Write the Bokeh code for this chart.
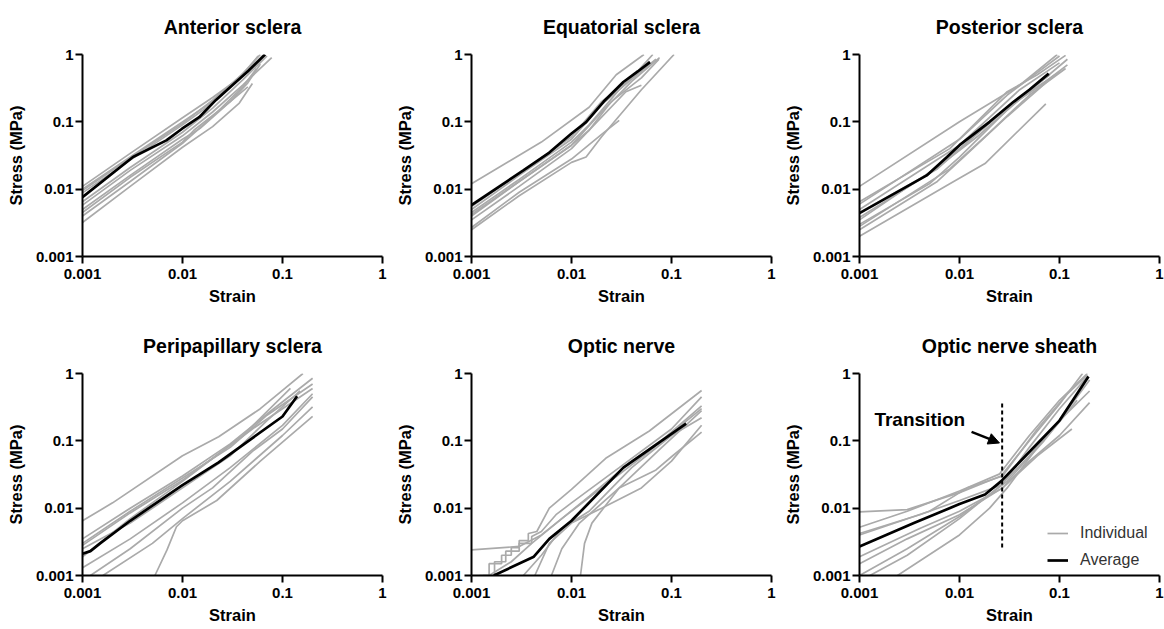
from bokeh.plotting import figure
from bokeh.layouts import column, row
from bokeh.models import (Range1d, FixedTicker, CustomJSTickFormatter, Legend, LegendItem,
                          Arrow, NormalHead, Label)
from bokeh.embed import file_html
from bokeh.resources import INLINE

# ---------------- data ----------------
TICKS = [0.001, 0.01, 0.1, 1]
TITLES = ["Anterior sclera", "Equatorial sclera", "Posterior sclera",
          "Peripapillary sclera", "Optic nerve", "Optic nerve sheath"]
X_LABEL = "Strain"
Y_LABEL = "Stress (MPa)"
LEGEND_LABELS = ["Individual", "Average"]

# Anterior sclera
ant_avg_strain = [0.001, 0.0032, 0.0069, 0.0099, 0.0147, 0.0215, 0.0315, 0.046, 0.067]
ant_avg_stress = [0.0076, 0.030, 0.053, 0.079, 0.117, 0.21, 0.35, 0.58, 1.0]
ant_ind = [
    ([0.001, 0.003, 0.01, 0.02, 0.035, 0.06], [0.011, 0.034, 0.115, 0.23, 0.42, 1.0]),
    ([0.001, 0.003, 0.01, 0.02, 0.04, 0.057], [0.010, 0.030, 0.10, 0.20, 0.50, 0.95]),
    ([0.001, 0.003, 0.01, 0.02, 0.04, 0.065], [0.0088, 0.027, 0.09, 0.19, 0.48, 1.0]),
    ([0.001, 0.003, 0.01, 0.02, 0.04, 0.07], [0.0065, 0.021, 0.07, 0.16, 0.42, 0.95]),
    ([0.001, 0.003, 0.01, 0.02, 0.04, 0.078], [0.0058, 0.019, 0.062, 0.14, 0.35, 0.9]),
    ([0.001, 0.003, 0.01, 0.015, 0.03, 0.045, 0.06], [0.005, 0.016, 0.055, 0.08, 0.2, 0.38, 0.72]),
    ([0.001, 0.003, 0.01, 0.013, 0.03, 0.045], [0.0045, 0.015, 0.05, 0.075, 0.2, 0.33]),
    ([0.001, 0.003, 0.01, 0.02, 0.037, 0.05], [0.0032, 0.011, 0.042, 0.085, 0.19, 0.37]),
    ([0.001, 0.003, 0.01, 0.02, 0.04, 0.055], [0.004, 0.013, 0.048, 0.12, 0.33, 0.62]),
    ([0.001, 0.003, 0.01, 0.02, 0.045, 0.065], [0.0095, 0.029, 0.095, 0.21, 0.6, 0.98]),
]

# Equatorial sclera
eq_avg_strain = [0.001, 0.0033, 0.006, 0.01, 0.014, 0.021, 0.033, 0.046, 0.061]
eq_avg_stress = [0.0058, 0.019, 0.035, 0.067, 0.099, 0.2, 0.39, 0.56, 0.77]
eq_ind = [
    ([0.001, 0.005, 0.015, 0.028, 0.053], [0.012, 0.05, 0.165, 0.5, 1.0]),
    ([0.001, 0.003, 0.01, 0.014, 0.02, 0.05, 0.106], [0.0025, 0.008, 0.025, 0.03, 0.06, 0.3, 1.0]),
    ([0.001, 0.003, 0.01, 0.02, 0.03], [0.0027, 0.009, 0.028, 0.065, 0.105]),
    ([0.001, 0.003, 0.01, 0.02, 0.04, 0.076], [0.004, 0.013, 0.045, 0.14, 0.4, 0.9]),
    ([0.001, 0.003, 0.01, 0.02, 0.045, 0.07], [0.005, 0.016, 0.055, 0.18, 0.5, 0.85]),
    ([0.001, 0.003, 0.01, 0.015, 0.03, 0.06], [0.0045, 0.014, 0.05, 0.09, 0.3, 0.8]),
    ([0.001, 0.003, 0.01, 0.018, 0.035, 0.05], [0.0035, 0.011, 0.04, 0.1, 0.28, 0.35]),
    ([0.001, 0.003, 0.01, 0.02, 0.04, 0.065], [0.0055, 0.017, 0.06, 0.2, 0.45, 1.0]),
    ([0.001, 0.003, 0.01, 0.015, 0.025, 0.05, 0.075], [0.0042, 0.013, 0.045, 0.075, 0.2, 0.45, 0.85]),
]

# Posterior sclera
post_avg_strain = [0.001, 0.0047, 0.0075, 0.01, 0.02, 0.035, 0.05, 0.078]
post_avg_stress = [0.0044, 0.016, 0.03, 0.045, 0.1, 0.2, 0.3, 0.52]
post_ind = [
    ([0.001, 0.01, 0.04, 0.095], [0.011, 0.1, 0.35, 1.0]),
    ([0.001, 0.008, 0.018, 0.073], [0.002, 0.012, 0.024, 0.185]),
    ([0.001, 0.01, 0.03, 0.1], [0.006, 0.055, 0.25, 0.95]),
    ([0.001, 0.008, 0.03, 0.06, 0.115], [0.0065, 0.04, 0.28, 0.5, 0.97]),
    ([0.001, 0.005, 0.01, 0.03, 0.12], [0.003, 0.012, 0.03, 0.15, 0.85]),
    ([0.001, 0.008, 0.02, 0.05, 0.115], [0.0028, 0.02, 0.07, 0.25, 0.62]),
    ([0.001, 0.007, 0.015, 0.04, 0.1], [0.0035, 0.025, 0.06, 0.22, 0.55]),
    ([0.001, 0.006, 0.012, 0.035, 0.08], [0.0045, 0.02, 0.05, 0.2, 0.5]),
    ([0.001, 0.006, 0.011, 0.03, 0.09], [0.0025, 0.013, 0.03, 0.12, 0.5]),
    ([0.001, 0.01, 0.04, 0.1], [0.005, 0.045, 0.3, 0.75]),
    ([0.001, 0.005, 0.012, 0.03, 0.07, 0.12], [0.0038, 0.017, 0.05, 0.16, 0.38, 0.7]),
]

# Peripapillary sclera
peri_avg_strain = [0.001, 0.0012, 0.0015, 0.003, 0.01, 0.023, 0.05, 0.1, 0.14]
peri_avg_stress = [0.0021, 0.0023, 0.003, 0.0065, 0.022, 0.048, 0.11, 0.23, 0.46]
peri_ind = [
    ([0.001, 0.002, 0.01, 0.023, 0.06, 0.16], [0.0065, 0.012, 0.06, 0.115, 0.3, 1.0]),
    ([0.001, 0.003, 0.01, 0.03, 0.07, 0.2], [0.0035, 0.01, 0.03, 0.09, 0.25, 0.85]),
    ([0.001, 0.003, 0.01, 0.03, 0.07, 0.2], [0.003, 0.009, 0.028, 0.08, 0.24, 0.7]),
    ([0.001, 0.003, 0.01, 0.05, 0.2], [0.0028, 0.0085, 0.026, 0.15, 0.6]),
    ([0.001, 0.003, 0.01, 0.04, 0.12], [0.0019, 0.007, 0.025, 0.12, 0.6]),
    ([0.001, 0.003, 0.01, 0.03, 0.1, 0.2], [0.0013, 0.0035, 0.012, 0.04, 0.17, 0.5]),
    ([0.0016, 0.005, 0.01, 0.03, 0.1, 0.2], [0.001, 0.003, 0.007, 0.025, 0.12, 0.32]),
    ([0.0053, 0.007, 0.0087, 0.01, 0.022, 0.06, 0.2], [0.001, 0.0024, 0.0053, 0.0065, 0.013, 0.05, 0.23]),
    ([0.001, 0.003, 0.01, 0.03, 0.07, 0.15], [0.0025, 0.006, 0.02, 0.06, 0.2, 0.55]),
    ([0.0012, 0.003, 0.01, 0.02, 0.05, 0.1, 0.2], [0.001, 0.0025, 0.01, 0.02, 0.07, 0.15, 0.45]),
]

# Optic nerve
on_avg_strain = [0.00167, 0.0042, 0.006, 0.01, 0.033, 0.14]
on_avg_stress = [0.001, 0.0019, 0.0035, 0.0065, 0.04, 0.18]
on_ind = [
    ([0.001, 0.003, 0.005, 0.008, 0.02, 0.06, 0.2], [0.0024, 0.0027, 0.004, 0.007, 0.02, 0.07, 0.33]),
    ([0.0012, 0.0015, 0.0015, 0.002, 0.002, 0.0025, 0.0025, 0.003, 0.003, 0.0037, 0.0037, 0.0045,
      0.006, 0.01, 0.022, 0.06, 0.2],
     [0.001, 0.001, 0.0015, 0.0015, 0.002, 0.002, 0.0026, 0.0026, 0.0033, 0.0033, 0.0042, 0.0045,
      0.01, 0.019, 0.055, 0.14, 0.56]),
    ([0.0013, 0.0017, 0.0017, 0.0022, 0.0022, 0.003, 0.003, 0.004, 0.004, 0.005, 0.007, 0.01, 0.03, 0.1, 0.2],
     [0.001, 0.001, 0.0016, 0.0016, 0.0023, 0.0023, 0.003, 0.003, 0.0038, 0.0045, 0.008, 0.012, 0.04, 0.15, 0.45]),
    ([0.0015, 0.0025, 0.004, 0.008, 0.015, 0.04, 0.1, 0.2],
     [0.001, 0.0016, 0.003, 0.007, 0.015, 0.05, 0.13, 0.3]),
    ([0.0033, 0.005, 0.008, 0.015, 0.04, 0.1, 0.2], [0.001, 0.002, 0.005, 0.009, 0.04, 0.12, 0.22]),
    ([0.0043, 0.006, 0.01, 0.02, 0.05, 0.1, 0.2], [0.001, 0.003, 0.006, 0.01, 0.02, 0.05, 0.17]),
    ([0.0063, 0.008, 0.012, 0.03, 0.08, 0.2], [0.001, 0.0025, 0.006, 0.02, 0.08, 0.28]),
    ([0.0123, 0.0135, 0.016, 0.03, 0.07, 0.1, 0.2], [0.001, 0.003, 0.006, 0.02, 0.037, 0.058, 0.135]),
]

# Optic nerve sheath
ons_avg_strain = [0.001, 0.0035, 0.01, 0.018, 0.026, 0.053, 0.1, 0.195]
ons_avg_stress = [0.0027, 0.006, 0.0115, 0.016, 0.025, 0.075, 0.2, 0.9]
ons_ind = [
    ([0.001, 0.003, 0.01, 0.026, 0.05, 0.1, 0.17], [0.0088, 0.0095, 0.017, 0.03, 0.1, 0.35, 1.0]),
    ([0.001, 0.003, 0.01, 0.025, 0.05, 0.1, 0.19], [0.0052, 0.009, 0.018, 0.032, 0.12, 0.4, 1.0]),
    ([0.001, 0.004, 0.01, 0.026, 0.05, 0.1, 0.2], [0.0042, 0.008, 0.013, 0.022, 0.06, 0.2, 0.55]),
    ([0.001, 0.004, 0.01, 0.027, 0.05, 0.1, 0.2], [0.0019, 0.005, 0.009, 0.02, 0.05, 0.12, 0.37]),
    ([0.001, 0.003, 0.01, 0.027, 0.06, 0.133], [0.0015, 0.0035, 0.008, 0.02, 0.06, 0.15]),
    ([0.00127, 0.003, 0.01, 0.027, 0.05, 0.1, 0.19], [0.001, 0.002, 0.007, 0.023, 0.08, 0.3, 0.9]),
    ([0.0024, 0.01, 0.02, 0.03, 0.06, 0.1, 0.2], [0.001, 0.004, 0.01, 0.02, 0.08, 0.2, 0.8]),
    ([0.001, 0.005, 0.012, 0.027, 0.06, 0.12, 0.19], [0.004, 0.009, 0.02, 0.03, 0.15, 0.5, 0.95]),
    ([0.001, 0.003, 0.01, 0.03, 0.07, 0.15], [0.001, 0.0025, 0.0075, 0.025, 0.1, 0.4]),
]

# Transition annotation (optic nerve sheath)
TRANS_LABEL = "Transition"
trans_strain = [0.0267, 0.0267]
trans_stress = [0.0026, 0.36]
trans_text_pos = (0.00141, 0.21)
trans_arrow_start = (0.0132, 0.136)
trans_arrow_end = (0.0251, 0.093)

# ---------------- style / layout ----------------
FONT = "Liberation Sans"
GRAY = "#aaaaaa"
FRAME_W, FRAME_H = 300, 202


def make_panel(title, ind, avg_x, avg_y, bl, br, bt, bb):
    p = figure(frame_width=FRAME_W, frame_height=FRAME_H,
               x_axis_type="log", y_axis_type="log",
               x_range=Range1d(0.001, 1), y_range=Range1d(0.001, 1),
               output_backend="svg", toolbar_location=None,
               min_border_left=bl, min_border_right=br,
               min_border_top=bt, min_border_bottom=bb)
    p.outline_line_color = None
    p.grid.visible = False
    p.background_fill_color = "white"
    p.border_fill_color = "white"

    p.title.text = title
    p.title.align = "center"
    p.title.vertical_align = "top"
    p.title.standoff = 29
    p.title.text_font = FONT
    p.title.text_font_size = "19.5px"
    p.title.text_font_style = "bold"
    p.title.text_color = "black"

    p.xaxis.axis_label = X_LABEL
    p.yaxis.axis_label = Y_LABEL
    for ax in (p.xaxis[0], p.yaxis[0]):
        ax.ticker = FixedTicker(ticks=TICKS, minor_ticks=[])
        ax.formatter = CustomJSTickFormatter(code="return tick.toString();")
        ax.axis_line_width = 2
        ax.axis_line_color = "black"
        ax.major_tick_line_width = 2
        ax.major_tick_line_color = "black"
        ax.major_tick_out = 7
        ax.major_tick_in = 0
        ax.minor_tick_line_color = None
        ax.major_label_text_font = FONT
        ax.major_label_text_font_size = "15px"
        ax.major_label_text_font_style = "bold"
        ax.major_label_text_color = "black"
        ax.axis_label_text_font = FONT
        ax.axis_label_text_font_size = "16.5px"
        ax.axis_label_text_font_style = "bold"
        ax.axis_label_text_color = "black"
    p.xaxis.major_label_standoff = 5
    p.xaxis.axis_label_standoff = 5
    p.yaxis.major_label_standoff = 2
    p.yaxis.axis_label_standoff = 8

    gray_renderers = []
    for xs, ys in ind:
        gray_renderers.append(p.line(xs, ys, line_color=GRAY, line_width=1.7))
    avg_r = p.line(avg_x, avg_y, line_color="black", line_width=2.7)
    return p, gray_renderers, avg_r


p1, _, _ = make_panel(TITLES[0], ant_ind, ant_avg_strain, ant_avg_stress, 82, 9, 54, 63)
p2, _, _ = make_panel(TITLES[1], eq_ind, eq_avg_strain, eq_avg_stress, 80, 8, 54, 63)
p3, _, _ = make_panel(TITLES[2], post_ind, post_avg_strain, post_avg_stress, 80, 5, 54, 63)
p4, _, _ = make_panel(TITLES[3], peri_ind, peri_avg_strain, peri_avg_stress, 82, 9, 54, 50)
p5, _, _ = make_panel(TITLES[4], on_ind, on_avg_strain, on_avg_stress, 80, 8, 54, 50)
p6, g6, a6 = make_panel(TITLES[5], ons_ind, ons_avg_strain, ons_avg_stress, 80, 5, 54, 50)

# transition annotation
p6.line(trans_strain, trans_stress, line_color="black", line_width=2, line_dash="4 3")
p6.add_layout(Arrow(end=NormalHead(size=11, fill_color="black", line_color="black"),
                    x_start=trans_arrow_start[0], y_start=trans_arrow_start[1],
                    x_end=trans_arrow_end[0], y_end=trans_arrow_end[1],
                    line_color="black", line_width=2.5))
p6.add_layout(Label(x=trans_text_pos[0], y=trans_text_pos[1], text=TRANS_LABEL,
                    text_font=FONT, text_font_size="19px", text_font_style="bold",
                    text_color="black", text_baseline="middle", text_align="left"))

legend = Legend(items=[LegendItem(label=LEGEND_LABELS[0], renderers=[g6[0]]),
                       LegendItem(label=LEGEND_LABELS[1], renderers=[a6])],
                location=(188, 5), margin=0, padding=0, spacing=7, glyph_width=21, glyph_height=20,
                label_height=20, label_standoff=12, label_text_font=FONT,
                label_text_font_size="16px", label_text_color="#333333",
                background_fill_alpha=0, border_line_color=None)
p6.add_layout(legend)

layout = column(row(p1, p2, p3, spacing=0), row(p4, p5, p6, spacing=0), spacing=0)

open("out.html", "w").write(file_html(layout, INLINE))
